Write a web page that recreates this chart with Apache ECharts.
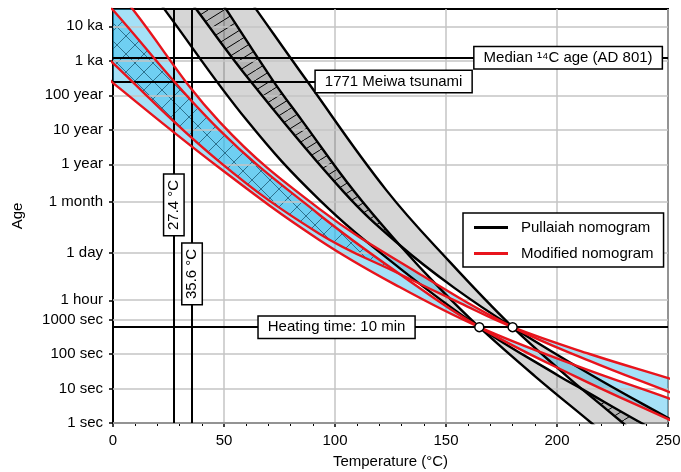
<!DOCTYPE html>
<html>
<head>
<meta charset="utf-8">
<script src="https://cdn.jsdelivr.net/npm/echarts@6/dist/echarts.min.js"></script>
<style>
html, body { margin: 0; padding: 0; background: #fff; }
#chart { width: 681px; height: 472px; }
</style>
</head>
<body>
<div id="chart"></div>
<script>
// y values are log10(age in seconds)
var YEAR = 31557600;
var ageTickSeconds = [1, 10, 100, 1000, 3600, 86400, 2629800, YEAR, 10 * YEAR, 100 * YEAR, 1000 * YEAR, 10000 * YEAR];
var ageTickLabels = ['1 sec', '10 sec', '100 sec', '1000 sec', '1 hour', '1 day', '1 month', '1 year', '10 year', '100 year', '1 ka', '10 ka'];

// Pullaiah nomogram curves [temperature degC, log10 age s]
var pullaiah165Flat = [[16.1, 12.61], [23.2, 11.99], [60.2, 8.78], [93.1, 6.46], [129.1, 4.49], [165, 2.778], [201.2, 1.35], [211.1, 0.99], [238.0, 0.0], [252.8, -0.49]];
var pullaiah165Steep = [[44.6, 12.61], [51.0, 11.99], [71.9, 9.94], [85.0, 8.78], [108.8, 6.70], [129.1, 5.16], [147.1, 3.91], [165, 2.778], [190.0, 1.36], [215.5, 0.0], [224.6, -0.49]];
var pullaiah180Flat = [[30.3, 12.61], [37.5, 11.99], [61.5, 9.94], [103.9, 6.70], [129.1, 5.16], [153.9, 3.91], [180, 2.778], [214.7, 1.42], [250.1, 0.14], [267.9, -0.49]];
var pullaiah180Steep = [[57.7, 12.61], [64.5, 11.99], [87.1, 9.94], [123.1, 6.75], [151.7, 4.67], [180, 2.778], [204.4, 1.36], [211.1, 0.99], [229.7, 0.0], [238.7, -0.49]];
var pullaiahCrossUpper = 129.1;
var pullaiahCrossLower = 211.1;

// modified nomogram curves
var modified165Steep = [[-8.5, 12.61], [0, 11.97], [48.0, 8.49], [93.1, 6.03], [129.1, 4.32], [165, 2.778], [208.0, 1.36], [250.1, 0.11], [259.8, -0.17]];
var modified165Flat = [[-8.3, 10.37], [0, 9.86], [48.0, 7.39], [93.1, 5.30], [129.1, 3.94], [165, 2.778], [208.0, 1.68], [250.1, 0.72], [259.8, 0.49]];
var modified180Steep = [[-8.3, 13.38], [8.9, 11.99], [48.0, 8.73], [93.1, 6.20], [138.1, 4.32], [180, 2.778], [214.7, 1.80], [250.1, 0.91], [259.8, 0.67]];
var modified180Flat = [[-8.3, 11.00], [0, 10.43], [48.0, 7.57], [93.1, 5.48], [129.1, 4.32], [156.2, 3.48], [180, 2.778], [214.7, 2.00], [250.1, 1.30], [259.8, 1.10]];
var modifiedCross = 129.1;

// reference lines
var heatingSeconds = 600;
var anchorTemps = [165, 180];
var medianAgeYears = 1220;
var meiwaAgeYears = 250;
var meiwaLineEnd = 160;
var siteTemps = [27.4, 35.6];

var SMOOTH = 0.4;
var FONT = '"Liberation Sans", Arial, sans-serif';

var ageTicks = ageTickSeconds.map(function (s) { return Math.log10(s); });
var heatL = Math.log10(heatingSeconds);
var medianL = Math.log10(medianAgeYears * YEAR);
var meiwaL = Math.log10(meiwaAgeYears * YEAR);

// annotation boxes: text, anchor [T, log age], rotated?
var notes = [
    ['Median ¹⁴C age (AD 801)', [205.0, medianL], false],
    ['1771 Meiwa tsunami', [126.4, meiwaL], false],
    ['Heating time: 10 min', [100.7, heatL], false],
    ['27.4 °C', [siteTemps[0], 6.32], true],
    ['35.6 °C', [siteTemps[1], 4.32], true]
];

function rev(a) { return a.slice().reverse(); }
function upTo(a, t) { return a.filter(function (p) { return p[0] <= t; }); }
function fromT(a, t) { return a.filter(function (p) { return p[0] >= t; }); }

function hatch(w, h, color, lw, cross) {
    var c = document.createElement('canvas');
    c.width = w; c.height = h;
    var g = c.getContext('2d');
    g.strokeStyle = color;
    g.lineWidth = lw;
    g.beginPath();
    for (var k = -1; k <= 1; k++) {
        g.moveTo(k * w, h); g.lineTo((k + 1) * w, 0);
        if (cross) { g.moveTo(k * w, 0); g.lineTo((k + 1) * w, h); }
    }
    g.stroke();
    return { image: c, repeat: 'repeat' };
}

function areaSeries(polys, fill, z) {
    return {
        type: 'custom', z: z, clip: true, silent: true, animation: false,
        data: [[0, 0]],
        renderItem: function (params, api) {
            return {
                type: 'group',
                children: polys.map(function (pts) {
                    return {
                        type: 'polygon',
                        shape: { points: pts.map(function (p) { return api.coord(p); }), smooth: SMOOTH },
                        style: { fill: fill, stroke: null }
                    };
                })
            };
        }
    };
}

function curve(name, data, color) {
    return {
        type: 'line', name: name, data: data, smooth: SMOOTH, symbol: 'none', z: 5,
        silent: true, lineStyle: { color: color, width: 2.4 }, itemStyle: { color: color }
    };
}

function labelFor(v) {
    var best = 0;
    ageTicks.forEach(function (t, i) { if (Math.abs(t - v) < Math.abs(ageTicks[best] - v)) best = i; });
    return ageTickLabels[best];
}

var chart = echarts.init(document.getElementById('chart'));
chart.setOption({
    animation: false,
    grid: { left: 113, right: 13, top: 9, bottom: 49, show: true, borderColor: '#000', borderWidth: 2, outerBoundsMode: 'none' },
    legend: {
        data: ['Pullaiah nomogram', 'Modified nomogram'], zlevel: 2,
        orient: 'vertical', left: 463, top: 213, icon: 'rect', itemWidth: 34, itemHeight: 3, itemGap: 11,
        padding: [7, 10, 6, 11], backgroundColor: '#fff', borderColor: '#000', borderWidth: 1.5,
        selectedMode: false, textStyle: { fontSize: 15, color: '#000', fontFamily: FONT, padding: [0, 0, 0, 8] }
    },
    xAxis: {
        type: 'value', min: 0, max: 250, interval: 50,
        name: 'Temperature (°C)', nameLocation: 'middle', nameGap: 31,
        nameTextStyle: { fontSize: 15, color: '#000', fontFamily: FONT },
        axisLine: { lineStyle: { color: '#000', width: 2 } },
        axisTick: { length: 4, lineStyle: { color: '#000', width: 1.5 } },
        minorTick: { show: true, splitNumber: 5, length: 3, lineStyle: { color: '#000', width: 1 } },
        axisLabel: { fontSize: 15, color: '#000', fontFamily: FONT, margin: 10 },
        splitLine: { show: true, lineStyle: { color: '#c4c4c4', width: 1.5 } }
    },
    yAxis: {
        type: 'value', min: 0, max: 12,
        name: 'Age', nameLocation: 'middle', nameGap: 88, nameRotate: 90,
        nameTextStyle: { fontSize: 15, color: '#000', fontFamily: FONT },
        axisLine: { lineStyle: { color: '#000', width: 2 } },
        axisTick: { customValues: ageTicks, length: 4, lineStyle: { color: '#000', width: 1.5 } },
        axisLabel: { customValues: ageTicks, formatter: labelFor, fontSize: 15, color: '#000', fontFamily: FONT, margin: 10 },
        splitLine: { show: false }
    },
    series: [
        {
            type: 'scatter', data: [], z: 1, silent: true,
            markLine: {
                symbol: 'none', silent: true, label: { show: false },
                lineStyle: { color: '#c4c4c4', width: 1.5, type: 'solid' },
                data: ageTicks.map(function (v) { return { yAxis: v }; })
            }
        },
        areaSeries([pullaiah165Flat.concat(rev(pullaiah165Steep)), pullaiah180Flat.concat(rev(pullaiah180Steep))], 'rgba(0,0,0,0.16)', 2),
        areaSeries([
            upTo(pullaiah180Flat, pullaiahCrossUpper).concat(rev(upTo(pullaiah165Steep, pullaiahCrossUpper))),
            fromT(pullaiah180Steep, pullaiahCrossLower).concat(rev(fromT(pullaiah165Flat, pullaiahCrossLower)))
        ], hatch(16, 10, '#000', 1, false), 3),
        areaSeries([modified165Steep.concat(rev(modified165Flat)), modified180Steep.concat(rev(modified180Flat))], 'rgba(30,180,235,0.4)', 3),
        areaSeries([upTo(modified165Steep, modifiedCross).concat(rev(upTo(modified180Flat, modifiedCross)))],
            hatch(18, 18, 'rgba(25,85,110,0.85)', 0.9, true), 4),
        curve('Pullaiah nomogram', pullaiah165Flat, '#000'),
        curve('Pullaiah nomogram', pullaiah165Steep, '#000'),
        curve('Pullaiah nomogram', pullaiah180Flat, '#000'),
        curve('Pullaiah nomogram', pullaiah180Steep, '#000'),
        curve('Modified nomogram', modified165Steep, '#e8141c'),
        curve('Modified nomogram', modified165Flat, '#e8141c'),
        curve('Modified nomogram', modified180Steep, '#e8141c'),
        curve('Modified nomogram', modified180Flat, '#e8141c'),
        {
            type: 'scatter', data: [], z: 6, silent: true,
            markLine: {
                symbol: 'none', silent: true, label: { show: false },
                lineStyle: { color: '#000', width: 2, type: 'solid' },
                data: [
                    { yAxis: medianL },
                    [{ coord: [0, meiwaL] }, { coord: [meiwaLineEnd, meiwaL] }],
                    { yAxis: heatL },
                    { xAxis: siteTemps[0] },
                    { xAxis: siteTemps[1] }
                ]
            }
        },
        {
            type: 'scatter', z: 7, zlevel: 1, silent: true, symbol: 'circle', symbolSize: 9,
            itemStyle: { color: '#fff', borderColor: '#000', borderWidth: 1.5, opacity: 1 },
            data: anchorTemps.map(function (t) { return [t, heatL]; })
        },
        {
            type: 'custom', z: 8, zlevel: 1, silent: true, animation: false,
            data: [[0, 0]],
            renderItem: function (params, api) {
                return {
                    type: 'group',
                    children: notes.map(function (n) {
                        var p = api.coord(n[1]);
                        return {
                            type: 'text', x: p[0], y: p[1], rotation: n[2] ? Math.PI / 2 : 0,
                            style: {
                                text: n[0], fill: '#000', font: '15px ' + FONT,
                                align: 'center', verticalAlign: 'middle',
                                backgroundColor: '#fff', borderColor: '#000', borderWidth: 1.5,
                                padding: n[2] ? [2, 5] : [3, 9]
                            }
                        };
                    })
                };
            }
        }
    ]
});
</script>
</body>
</html>
